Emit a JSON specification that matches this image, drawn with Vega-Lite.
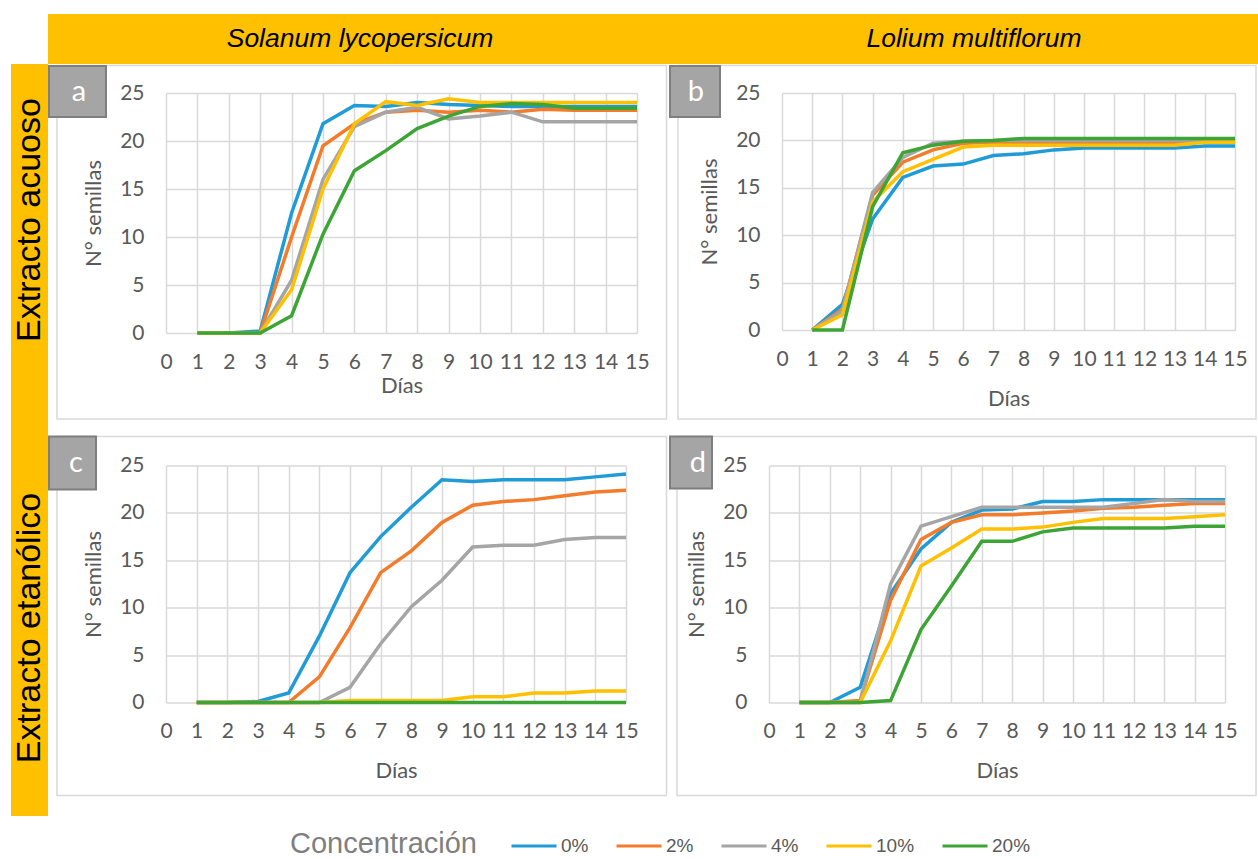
{
"$schema": "https://vega.github.io/schema/vega-lite/v6.json",
"padding": {"left": 11, "top": 14, "right": 0, "bottom": 0},
"background": "white",
"config": {
 "view": {"stroke": null},
 "font": "Lato",
 "axis": {"labelFont": "Lato", "labelFontSize": 21, "labelColor": "#595959", "titleFont": "Lato", "titleFontSize": 22, "titleFontWeight": "normal", "titleColor": "#595959", "gridColor": "#D9D9D9", "gridWidth": 1.5, "ticks": false, "domain": false, "labelFlush": false, "labelOverlap": false},
 "axisX": {"labelPadding": 18, "titlePadding": 19},
 "axisY": {"labelPadding": 22, "titlePadding": 14},
 "legend": {"orient": "none", "legendX": 279, "legendY": 808, "direction": "horizontal", "titleOrient": "left", "titleAnchor": "middle", "titleBaseline": "line-top", "titleLineHeight": 11, "titleLimit": 400, "titleFont": "Liberation Sans", "titleFontSize": 29, "titleFontWeight": "normal", "titleColor": "#7F7F7F", "titlePadding": 33, "labelFont": "Liberation Sans", "labelFontSize": 19, "labelColor": "#595959", "symbolType": "stroke", "symbolStrokeWidth": 3, "symbolSize": 2025, "columnPadding": 21, "labelOffset": 3}
},
"datasets": {"g": [
{"p":"a","c":"0%","d":1,"v":0},{"p":"a","c":"0%","d":2,"v":0},{"p":"a","c":"0%","d":3,"v":0.2},{"p":"a","c":"0%","d":4,"v":12.5},{"p":"a","c":"0%","d":5,"v":21.8},{"p":"a","c":"0%","d":6,"v":23.7},{"p":"a","c":"0%","d":7,"v":23.6},{"p":"a","c":"0%","d":8,"v":24.0},{"p":"a","c":"0%","d":9,"v":23.8},{"p":"a","c":"0%","d":10,"v":23.7},{"p":"a","c":"0%","d":11,"v":23.6},{"p":"a","c":"0%","d":12,"v":23.6},{"p":"a","c":"0%","d":13,"v":23.6},{"p":"a","c":"0%","d":14,"v":23.6},{"p":"a","c":"0%","d":15,"v":23.6},
{"p":"a","c":"2%","d":1,"v":0},{"p":"a","c":"2%","d":2,"v":0},{"p":"a","c":"2%","d":3,"v":0},{"p":"a","c":"2%","d":4,"v":10},{"p":"a","c":"2%","d":5,"v":19.5},{"p":"a","c":"2%","d":6,"v":21.8},{"p":"a","c":"2%","d":7,"v":23.0},{"p":"a","c":"2%","d":8,"v":23.2},{"p":"a","c":"2%","d":9,"v":23.0},{"p":"a","c":"2%","d":10,"v":23.2},{"p":"a","c":"2%","d":11,"v":23.0},{"p":"a","c":"2%","d":12,"v":23.3},{"p":"a","c":"2%","d":13,"v":23.2},{"p":"a","c":"2%","d":14,"v":23.2},{"p":"a","c":"2%","d":15,"v":23.2},
{"p":"a","c":"4%","d":1,"v":0},{"p":"a","c":"4%","d":2,"v":0},{"p":"a","c":"4%","d":3,"v":0},{"p":"a","c":"4%","d":4,"v":5.5},{"p":"a","c":"4%","d":5,"v":16},{"p":"a","c":"4%","d":6,"v":21.5},{"p":"a","c":"4%","d":7,"v":23.0},{"p":"a","c":"4%","d":8,"v":23.5},{"p":"a","c":"4%","d":9,"v":22.3},{"p":"a","c":"4%","d":10,"v":22.6},{"p":"a","c":"4%","d":11,"v":23.0},{"p":"a","c":"4%","d":12,"v":22.0},{"p":"a","c":"4%","d":13,"v":22.0},{"p":"a","c":"4%","d":14,"v":22.0},{"p":"a","c":"4%","d":15,"v":22.0},
{"p":"a","c":"10%","d":1,"v":0},{"p":"a","c":"10%","d":2,"v":0},{"p":"a","c":"10%","d":3,"v":0},{"p":"a","c":"10%","d":4,"v":4.5},{"p":"a","c":"10%","d":5,"v":15},{"p":"a","c":"10%","d":6,"v":21.8},{"p":"a","c":"10%","d":7,"v":24.1},{"p":"a","c":"10%","d":8,"v":23.7},{"p":"a","c":"10%","d":9,"v":24.4},{"p":"a","c":"10%","d":10,"v":24.0},{"p":"a","c":"10%","d":11,"v":24.0},{"p":"a","c":"10%","d":12,"v":24.0},{"p":"a","c":"10%","d":13,"v":24.0},{"p":"a","c":"10%","d":14,"v":24.0},{"p":"a","c":"10%","d":15,"v":24.0},
{"p":"a","c":"20%","d":1,"v":0},{"p":"a","c":"20%","d":2,"v":0},{"p":"a","c":"20%","d":3,"v":0},{"p":"a","c":"20%","d":4,"v":1.8},{"p":"a","c":"20%","d":5,"v":10.3},{"p":"a","c":"20%","d":6,"v":16.9},{"p":"a","c":"20%","d":7,"v":19.0},{"p":"a","c":"20%","d":8,"v":21.3},{"p":"a","c":"20%","d":9,"v":22.6},{"p":"a","c":"20%","d":10,"v":23.6},{"p":"a","c":"20%","d":11,"v":23.9},{"p":"a","c":"20%","d":12,"v":23.8},{"p":"a","c":"20%","d":13,"v":23.4},{"p":"a","c":"20%","d":14,"v":23.4},{"p":"a","c":"20%","d":15,"v":23.4},
{"p":"b","c":"0%","d":1,"v":0},{"p":"b","c":"0%","d":2,"v":2.7},{"p":"b","c":"0%","d":3,"v":11.7},{"p":"b","c":"0%","d":4,"v":16.1},{"p":"b","c":"0%","d":5,"v":17.3},{"p":"b","c":"0%","d":6,"v":17.5},{"p":"b","c":"0%","d":7,"v":18.4},{"p":"b","c":"0%","d":8,"v":18.6},{"p":"b","c":"0%","d":9,"v":19.0},{"p":"b","c":"0%","d":10,"v":19.2},{"p":"b","c":"0%","d":11,"v":19.2},{"p":"b","c":"0%","d":12,"v":19.2},{"p":"b","c":"0%","d":13,"v":19.2},{"p":"b","c":"0%","d":14,"v":19.4},{"p":"b","c":"0%","d":15,"v":19.4},
{"p":"b","c":"2%","d":1,"v":0},{"p":"b","c":"2%","d":2,"v":2.2},{"p":"b","c":"2%","d":3,"v":14.2},{"p":"b","c":"2%","d":4,"v":17.7},{"p":"b","c":"2%","d":5,"v":19.0},{"p":"b","c":"2%","d":6,"v":19.7},{"p":"b","c":"2%","d":7,"v":19.8},{"p":"b","c":"2%","d":8,"v":19.8},{"p":"b","c":"2%","d":9,"v":19.8},{"p":"b","c":"2%","d":10,"v":19.8},{"p":"b","c":"2%","d":11,"v":19.8},{"p":"b","c":"2%","d":12,"v":19.8},{"p":"b","c":"2%","d":13,"v":19.8},{"p":"b","c":"2%","d":14,"v":19.8},{"p":"b","c":"2%","d":15,"v":19.8},
{"p":"b","c":"4%","d":1,"v":0},{"p":"b","c":"4%","d":2,"v":2.0},{"p":"b","c":"4%","d":3,"v":14.5},{"p":"b","c":"4%","d":4,"v":18.2},{"p":"b","c":"4%","d":5,"v":19.7},{"p":"b","c":"4%","d":6,"v":19.9},{"p":"b","c":"4%","d":7,"v":20.0},{"p":"b","c":"4%","d":8,"v":20.0},{"p":"b","c":"4%","d":9,"v":20.0},{"p":"b","c":"4%","d":10,"v":20.0},{"p":"b","c":"4%","d":11,"v":20.0},{"p":"b","c":"4%","d":12,"v":20.0},{"p":"b","c":"4%","d":13,"v":20.0},{"p":"b","c":"4%","d":14,"v":20.0},{"p":"b","c":"4%","d":15,"v":20.0},
{"p":"b","c":"10%","d":1,"v":0},{"p":"b","c":"10%","d":2,"v":1.6},{"p":"b","c":"10%","d":3,"v":13.5},{"p":"b","c":"10%","d":4,"v":16.7},{"p":"b","c":"10%","d":5,"v":18.0},{"p":"b","c":"10%","d":6,"v":19.3},{"p":"b","c":"10%","d":7,"v":19.5},{"p":"b","c":"10%","d":8,"v":19.5},{"p":"b","c":"10%","d":9,"v":19.5},{"p":"b","c":"10%","d":10,"v":19.5},{"p":"b","c":"10%","d":11,"v":19.5},{"p":"b","c":"10%","d":12,"v":19.5},{"p":"b","c":"10%","d":13,"v":19.5},{"p":"b","c":"10%","d":14,"v":19.8},{"p":"b","c":"10%","d":15,"v":19.8},
{"p":"b","c":"20%","d":1,"v":0},{"p":"b","c":"20%","d":2,"v":0},{"p":"b","c":"20%","d":3,"v":13.0},{"p":"b","c":"20%","d":4,"v":18.7},{"p":"b","c":"20%","d":5,"v":19.5},{"p":"b","c":"20%","d":6,"v":19.9},{"p":"b","c":"20%","d":7,"v":20.0},{"p":"b","c":"20%","d":8,"v":20.2},{"p":"b","c":"20%","d":9,"v":20.2},{"p":"b","c":"20%","d":10,"v":20.2},{"p":"b","c":"20%","d":11,"v":20.2},{"p":"b","c":"20%","d":12,"v":20.2},{"p":"b","c":"20%","d":13,"v":20.2},{"p":"b","c":"20%","d":14,"v":20.2},{"p":"b","c":"20%","d":15,"v":20.2},
{"p":"c","c":"0%","d":1,"v":0},{"p":"c","c":"0%","d":2,"v":0},{"p":"c","c":"0%","d":3,"v":0.1},{"p":"c","c":"0%","d":4,"v":1.0},{"p":"c","c":"0%","d":5,"v":7.0},{"p":"c","c":"0%","d":6,"v":13.7},{"p":"c","c":"0%","d":7,"v":17.5},{"p":"c","c":"0%","d":8,"v":20.6},{"p":"c","c":"0%","d":9,"v":23.5},{"p":"c","c":"0%","d":10,"v":23.3},{"p":"c","c":"0%","d":11,"v":23.5},{"p":"c","c":"0%","d":12,"v":23.5},{"p":"c","c":"0%","d":13,"v":23.5},{"p":"c","c":"0%","d":14,"v":23.8},{"p":"c","c":"0%","d":15,"v":24.1},
{"p":"c","c":"2%","d":1,"v":0},{"p":"c","c":"2%","d":2,"v":0},{"p":"c","c":"2%","d":3,"v":0},{"p":"c","c":"2%","d":4,"v":0},{"p":"c","c":"2%","d":5,"v":2.7},{"p":"c","c":"2%","d":6,"v":7.9},{"p":"c","c":"2%","d":7,"v":13.7},{"p":"c","c":"2%","d":8,"v":16.0},{"p":"c","c":"2%","d":9,"v":19.0},{"p":"c","c":"2%","d":10,"v":20.8},{"p":"c","c":"2%","d":11,"v":21.2},{"p":"c","c":"2%","d":12,"v":21.4},{"p":"c","c":"2%","d":13,"v":21.8},{"p":"c","c":"2%","d":14,"v":22.2},{"p":"c","c":"2%","d":15,"v":22.4},
{"p":"c","c":"4%","d":1,"v":0},{"p":"c","c":"4%","d":2,"v":0},{"p":"c","c":"4%","d":3,"v":0},{"p":"c","c":"4%","d":4,"v":0},{"p":"c","c":"4%","d":5,"v":0},{"p":"c","c":"4%","d":6,"v":1.6},{"p":"c","c":"4%","d":7,"v":6.2},{"p":"c","c":"4%","d":8,"v":10.1},{"p":"c","c":"4%","d":9,"v":12.9},{"p":"c","c":"4%","d":10,"v":16.4},{"p":"c","c":"4%","d":11,"v":16.6},{"p":"c","c":"4%","d":12,"v":16.6},{"p":"c","c":"4%","d":13,"v":17.2},{"p":"c","c":"4%","d":14,"v":17.4},{"p":"c","c":"4%","d":15,"v":17.4},
{"p":"c","c":"10%","d":1,"v":0},{"p":"c","c":"10%","d":2,"v":0},{"p":"c","c":"10%","d":3,"v":0},{"p":"c","c":"10%","d":4,"v":0},{"p":"c","c":"10%","d":5,"v":0},{"p":"c","c":"10%","d":6,"v":0.2},{"p":"c","c":"10%","d":7,"v":0.2},{"p":"c","c":"10%","d":8,"v":0.2},{"p":"c","c":"10%","d":9,"v":0.2},{"p":"c","c":"10%","d":10,"v":0.6},{"p":"c","c":"10%","d":11,"v":0.6},{"p":"c","c":"10%","d":12,"v":1.0},{"p":"c","c":"10%","d":13,"v":1.0},{"p":"c","c":"10%","d":14,"v":1.2},{"p":"c","c":"10%","d":15,"v":1.2},
{"p":"c","c":"20%","d":1,"v":0},{"p":"c","c":"20%","d":2,"v":0},{"p":"c","c":"20%","d":3,"v":0},{"p":"c","c":"20%","d":4,"v":0},{"p":"c","c":"20%","d":5,"v":0},{"p":"c","c":"20%","d":6,"v":0},{"p":"c","c":"20%","d":7,"v":0},{"p":"c","c":"20%","d":8,"v":0},{"p":"c","c":"20%","d":9,"v":0},{"p":"c","c":"20%","d":10,"v":0},{"p":"c","c":"20%","d":11,"v":0},{"p":"c","c":"20%","d":12,"v":0},{"p":"c","c":"20%","d":13,"v":0},{"p":"c","c":"20%","d":14,"v":0},{"p":"c","c":"20%","d":15,"v":0},
{"p":"d","c":"0%","d":1,"v":0},{"p":"d","c":"0%","d":2,"v":0},{"p":"d","c":"0%","d":3,"v":1.6},{"p":"d","c":"0%","d":4,"v":11.5},{"p":"d","c":"0%","d":5,"v":16.2},{"p":"d","c":"0%","d":6,"v":19.0},{"p":"d","c":"0%","d":7,"v":20.3},{"p":"d","c":"0%","d":8,"v":20.4},{"p":"d","c":"0%","d":9,"v":21.2},{"p":"d","c":"0%","d":10,"v":21.2},{"p":"d","c":"0%","d":11,"v":21.4},{"p":"d","c":"0%","d":12,"v":21.4},{"p":"d","c":"0%","d":13,"v":21.4},{"p":"d","c":"0%","d":14,"v":21.4},{"p":"d","c":"0%","d":15,"v":21.4},
{"p":"d","c":"2%","d":1,"v":0},{"p":"d","c":"2%","d":2,"v":0},{"p":"d","c":"2%","d":3,"v":0.2},{"p":"d","c":"2%","d":4,"v":10.8},{"p":"d","c":"2%","d":5,"v":17.2},{"p":"d","c":"2%","d":6,"v":19.0},{"p":"d","c":"2%","d":7,"v":19.8},{"p":"d","c":"2%","d":8,"v":19.8},{"p":"d","c":"2%","d":9,"v":20.0},{"p":"d","c":"2%","d":10,"v":20.2},{"p":"d","c":"2%","d":11,"v":20.5},{"p":"d","c":"2%","d":12,"v":20.6},{"p":"d","c":"2%","d":13,"v":20.8},{"p":"d","c":"2%","d":14,"v":21.0},{"p":"d","c":"2%","d":15,"v":21.0},
{"p":"d","c":"4%","d":1,"v":0},{"p":"d","c":"4%","d":2,"v":0},{"p":"d","c":"4%","d":3,"v":0},{"p":"d","c":"4%","d":4,"v":12.5},{"p":"d","c":"4%","d":5,"v":18.6},{"p":"d","c":"4%","d":6,"v":19.6},{"p":"d","c":"4%","d":7,"v":20.6},{"p":"d","c":"4%","d":8,"v":20.6},{"p":"d","c":"4%","d":9,"v":20.6},{"p":"d","c":"4%","d":10,"v":20.6},{"p":"d","c":"4%","d":11,"v":20.6},{"p":"d","c":"4%","d":12,"v":21.0},{"p":"d","c":"4%","d":13,"v":21.4},{"p":"d","c":"4%","d":14,"v":21.2},{"p":"d","c":"4%","d":15,"v":21.2},
{"p":"d","c":"10%","d":1,"v":0},{"p":"d","c":"10%","d":2,"v":0},{"p":"d","c":"10%","d":3,"v":0},{"p":"d","c":"10%","d":4,"v":6.5},{"p":"d","c":"10%","d":5,"v":14.4},{"p":"d","c":"10%","d":6,"v":16.3},{"p":"d","c":"10%","d":7,"v":18.3},{"p":"d","c":"10%","d":8,"v":18.3},{"p":"d","c":"10%","d":9,"v":18.5},{"p":"d","c":"10%","d":10,"v":19.0},{"p":"d","c":"10%","d":11,"v":19.4},{"p":"d","c":"10%","d":12,"v":19.4},{"p":"d","c":"10%","d":13,"v":19.4},{"p":"d","c":"10%","d":14,"v":19.6},{"p":"d","c":"10%","d":15,"v":19.8},
{"p":"d","c":"20%","d":1,"v":0},{"p":"d","c":"20%","d":2,"v":0},{"p":"d","c":"20%","d":3,"v":0},{"p":"d","c":"20%","d":4,"v":0.2},{"p":"d","c":"20%","d":5,"v":7.7},{"p":"d","c":"20%","d":6,"v":12.3},{"p":"d","c":"20%","d":7,"v":17.0},{"p":"d","c":"20%","d":8,"v":17.0},{"p":"d","c":"20%","d":9,"v":18.0},{"p":"d","c":"20%","d":10,"v":18.4},{"p":"d","c":"20%","d":11,"v":18.4},{"p":"d","c":"20%","d":12,"v":18.4},{"p":"d","c":"20%","d":13,"v":18.4},{"p":"d","c":"20%","d":14,"v":18.6},{"p":"d","c":"20%","d":15,"v":18.6}
]},
"spacing": 0,
"vconcat": [
 {"hconcat": [
   {"width": 37, "height": 50, "data": {"values": []}, "mark": {"type": "text"}, "encoding": {}},
   {"width": 624, "height": 50, "view": {"fill": "#FFC000", "stroke": null}, "data": {"values": [{"t": "Solanum lycopersicum"}]}, "mark": {"type": "text", "font": "Liberation Sans", "fontStyle": "italic", "fontSize": 26.5, "color": "#000000", "baseline": "middle"}, "encoding": {"text": {"field": "t", "type": "nominal"}}},
   {"width": 586, "height": 50, "view": {"fill": "#FFC000", "stroke": null}, "data": {"values": [{"t": "Lolium multiflorum"}]}, "mark": {"type": "text", "font": "Liberation Sans", "fontStyle": "italic", "fontSize": 26.5, "color": "#000000", "baseline": "middle", "dx": 9}, "encoding": {"text": {"field": "t", "type": "nominal"}}}
  ], "spacing": 0},
 {"hconcat": [
   {"vconcat": [
     {"width": 37, "height": 364, "view": {"fill": "#FFC000", "stroke": null}, "data": {"values": [{"t": "Extracto acuoso"}]}, "mark": {"type": "text", "font": "Liberation Sans", "fontSize": 34, "angle": 270, "color": "#000000", "baseline": "middle", "dx": 26}, "encoding": {"text": {"field": "t", "type": "nominal"}}},
     {"width": 37, "height": 388, "view": {"fill": "#FFC000", "stroke": null}, "data": {"values": [{"t": "Extracto etanólico"}]}, "mark": {"type": "text", "font": "Liberation Sans", "fontSize": 34, "angle": 270, "color": "#000000", "baseline": "middle", "dx": -6}, "encoding": {"text": {"field": "t", "type": "nominal"}}}
    ], "spacing": 0},
   {"vconcat": [
     {"width": 1, "height": 1, "data": {"values": []}, "mark": {"type": "text"}, "encoding": {}},
     {"vconcat": [
     {"hconcat": [
       {"width": 471, "height": 240, "layer": [
         {"data": {"name": "g"}, "transform": [{"filter": "datum.p === 'a'"}], "mark": {"type": "line", "strokeWidth": 3.5}, "encoding": {
           "x": {"field": "d", "type": "quantitative", "scale": {"domain": [0, 15]}, "axis": {"values": [0,1,2,3,4,5,6,7,8,9,10,11,12,13,14,15], "title": "Días", "titlePadding": 3}},
           "y": {"field": "v", "type": "quantitative", "scale": {"domain": [0, 25]}, "axis": {"values": [0,5,10,15,20,25], "title": "N° semillas"}},
           "color": {"field": "c", "type": "nominal", "scale": {"domain": ["0%","2%","4%","10%","20%"], "range": ["#1F9BD7","#F47B2A","#A5A5A5","#FFC000","#3DA535"]}, "legend": {"title": "Concentración"}}}},
         {"data": {"values": [{"k": "a"}]}, "mark": {"type": "rect", "filled": false, "stroke": "#D9D9D9", "strokeWidth": 1.5, "clip": false}, "encoding": {
           "x": {"datum": -3.471, "type": "quantitative", "scale": {"domain": [0, 15]}, "axis": {"values": [0,1,2,3,4,5,6,7,8,9,10,11,12,13,14,15], "title": "Días", "titlePadding": 3}}, "x2": {"datum": 15.939},
           "y": {"datum": 27.865, "type": "quantitative", "scale": {"domain": [0, 25]}, "axis": {"values": [0,5,10,15,20,25], "title": "N° semillas"}}, "y2": {"datum": -8.958}}},
         {"data": {"values": [{"k": "a"}]}, "mark": {"type": "rect", "fill": "#A5A5A5", "stroke": "#7F7F7F", "strokeWidth": 2, "clip": false}, "encoding": {
           "x": {"datum": -3.726, "type": "quantitative", "scale": {"domain": [0, 15]}, "axis": {"values": [0,1,2,3,4,5,6,7,8,9,10,11,12,13,14,15], "title": "Días", "titlePadding": 3}}, "x2": {"datum": -1.911},
           "y": {"datum": 27.8125, "type": "quantitative", "scale": {"domain": [0, 25]}, "axis": {"values": [0,5,10,15,20,25], "title": "N° semillas"}}, "y2": {"datum": 22.5}}},
         {"data": {"values": [{"k": "a"}]}, "mark": {"type": "text", "font": "Lato", "fontSize": 29, "color": "#FFFFFF", "baseline": "middle", "clip": false}, "encoding": {
           "x": {"datum": -2.771, "type": "quantitative", "scale": {"domain": [0, 15]}, "axis": {"values": [0,1,2,3,4,5,6,7,8,9,10,11,12,13,14,15], "title": "Días", "titlePadding": 3}},
           "y": {"datum": 25.156, "type": "quantitative", "scale": {"domain": [0, 25]}, "axis": {"values": [0,5,10,15,20,25], "title": "N° semillas"}},
           "text": {"field": "k", "type": "nominal"}}}
       ]},
       {"width": 453, "height": 237, "layer": [
         {"data": {"name": "g"}, "transform": [{"filter": "datum.p === 'b'"}], "mark": {"type": "line", "strokeWidth": 3.5}, "encoding": {
           "x": {"field": "d", "type": "quantitative", "scale": {"domain": [0, 15]}, "axis": {"values": [0,1,2,3,4,5,6,7,8,9,10,11,12,13,14,15], "title": "Días"}},
           "y": {"field": "v", "type": "quantitative", "scale": {"domain": [0, 25]}, "axis": {"values": [0,5,10,15,20,25], "title": "N° semillas"}},
           "color": {"field": "c", "type": "nominal", "scale": {"domain": ["0%","2%","4%","10%","20%"], "range": ["#1F9BD7","#F47B2A","#A5A5A5","#FFC000","#3DA535"]}, "legend": {"title": "Concentración"}}}},
         {"data": {"values": [{"k": "b"}]}, "mark": {"type": "rect", "filled": false, "stroke": "#D9D9D9", "strokeWidth": 1.5, "clip": false}, "encoding": {
           "x": {"datum": -3.444, "type": "quantitative", "scale": {"domain": [0, 15]}, "axis": {"values": [0,1,2,3,4,5,6,7,8,9,10,11,12,13,14,15], "title": "Días"}}, "x2": {"datum": 15.695},
           "y": {"datum": 27.901, "type": "quantitative", "scale": {"domain": [0, 25]}, "axis": {"values": [0,5,10,15,20,25], "title": "N° semillas"}}, "y2": {"datum": -9.388}}},
         {"data": {"values": [{"k": "b"}]}, "mark": {"type": "rect", "fill": "#A5A5A5", "stroke": "#7F7F7F", "strokeWidth": 2, "clip": false}, "encoding": {
           "x": {"datum": -3.709, "type": "quantitative", "scale": {"domain": [0, 15]}, "axis": {"values": [0,1,2,3,4,5,6,7,8,9,10,11,12,13,14,15], "title": "Días"}}, "x2": {"datum": -2.053},
           "y": {"datum": 27.848, "type": "quantitative", "scale": {"domain": [0, 25]}, "axis": {"values": [0,5,10,15,20,25], "title": "N° semillas"}}, "y2": {"datum": 22.468}}},
         {"data": {"values": [{"k": "b"}]}, "mark": {"type": "text", "font": "Lato", "fontSize": 29, "color": "#FFFFFF", "baseline": "middle", "clip": false}, "encoding": {
           "x": {"datum": -2.848, "type": "quantitative", "scale": {"domain": [0, 15]}, "axis": {"values": [0,1,2,3,4,5,6,7,8,9,10,11,12,13,14,15], "title": "Días"}},
           "y": {"datum": 25.158, "type": "quantitative", "scale": {"domain": [0, 25]}, "axis": {"values": [0,5,10,15,20,25], "title": "N° semillas"}},
           "text": {"field": "k", "type": "nominal"}}}
       ]}
      ], "spacing": 0},
     {"hconcat": [
       {"width": 460, "height": 237, "layer": [
         {"data": {"name": "g"}, "transform": [{"filter": "datum.p === 'c'"}], "mark": {"type": "line", "strokeWidth": 3.5}, "encoding": {
           "x": {"field": "d", "type": "quantitative", "scale": {"domain": [0, 15]}, "axis": {"values": [0,1,2,3,4,5,6,7,8,9,10,11,12,13,14,15], "title": "Días"}},
           "y": {"field": "v", "type": "quantitative", "scale": {"domain": [0, 25]}, "axis": {"values": [0,5,10,15,20,25], "title": "N° semillas"}},
           "color": {"field": "c", "type": "nominal", "scale": {"domain": ["0%","2%","4%","10%","20%"], "range": ["#1F9BD7","#F47B2A","#A5A5A5","#FFC000","#3DA535"]}, "legend": {"title": "Concentración"}}}},
         {"data": {"values": [{"k": "c"}]}, "mark": {"type": "rect", "filled": false, "stroke": "#D9D9D9", "strokeWidth": 1.5, "clip": false}, "encoding": {
           "x": {"datum": -3.554, "type": "quantitative", "scale": {"domain": [0, 15]}, "axis": {"values": [0,1,2,3,4,5,6,7,8,9,10,11,12,13,14,15], "title": "Días"}}, "x2": {"datum": 16.321},
           "y": {"datum": 28.059, "type": "quantitative", "scale": {"domain": [0, 25]}, "axis": {"values": [0,5,10,15,20,25], "title": "N° semillas"}}, "y2": {"datum": -9.81}}},
         {"data": {"values": [{"k": "c"}]}, "mark": {"type": "rect", "fill": "#A5A5A5", "stroke": "#7F7F7F", "strokeWidth": 2, "clip": false}, "encoding": {
           "x": {"datum": -3.815, "type": "quantitative", "scale": {"domain": [0, 15]}, "axis": {"values": [0,1,2,3,4,5,6,7,8,9,10,11,12,13,14,15], "title": "Días"}}, "x2": {"datum": -2.283},
           "y": {"datum": 28.059, "type": "quantitative", "scale": {"domain": [0, 25]}, "axis": {"values": [0,5,10,15,20,25], "title": "N° semillas"}}, "y2": {"datum": 22.468}}},
         {"data": {"values": [{"k": "c"}]}, "mark": {"type": "text", "font": "Lato", "fontSize": 29, "color": "#FFFFFF", "baseline": "middle", "clip": false}, "encoding": {
           "x": {"datum": -2.935, "type": "quantitative", "scale": {"domain": [0, 15]}, "axis": {"values": [0,1,2,3,4,5,6,7,8,9,10,11,12,13,14,15], "title": "Días"}},
           "y": {"datum": 25.211, "type": "quantitative", "scale": {"domain": [0, 25]}, "axis": {"values": [0,5,10,15,20,25], "title": "N° semillas"}},
           "text": {"field": "k", "type": "nominal"}}}
       ]},
       {"width": 456, "height": 237, "layer": [
         {"data": {"name": "g"}, "transform": [{"filter": "datum.p === 'd'"}], "mark": {"type": "line", "strokeWidth": 3.5}, "encoding": {
           "x": {"field": "d", "type": "quantitative", "scale": {"domain": [0, 15]}, "axis": {"values": [0,1,2,3,4,5,6,7,8,9,10,11,12,13,14,15], "title": "Días"}},
           "y": {"field": "v", "type": "quantitative", "scale": {"domain": [0, 25]}, "axis": {"values": [0,5,10,15,20,25], "title": "N° semillas"}},
           "color": {"field": "c", "type": "nominal", "scale": {"domain": ["0%","2%","4%","10%","20%"], "range": ["#1F9BD7","#F47B2A","#A5A5A5","#FFC000","#3DA535"]}, "legend": {"title": "Concentración"}}}},
         {"data": {"values": [{"k": "d"}]}, "mark": {"type": "rect", "filled": false, "stroke": "#D9D9D9", "strokeWidth": 1.5, "clip": false}, "encoding": {
           "x": {"datum": -3.026, "type": "quantitative", "scale": {"domain": [0, 15]}, "axis": {"values": [0,1,2,3,4,5,6,7,8,9,10,11,12,13,14,15], "title": "Días"}}, "x2": {"datum": 16.02},
           "y": {"datum": 28.059, "type": "quantitative", "scale": {"domain": [0, 25]}, "axis": {"values": [0,5,10,15,20,25], "title": "N° semillas"}}, "y2": {"datum": -9.81}}},
         {"data": {"values": [{"k": "d"}]}, "mark": {"type": "rect", "fill": "#A5A5A5", "stroke": "#7F7F7F", "strokeWidth": 2, "clip": false}, "encoding": {
           "x": {"datum": -3.257, "type": "quantitative", "scale": {"domain": [0, 15]}, "axis": {"values": [0,1,2,3,4,5,6,7,8,9,10,11,12,13,14,15], "title": "Días"}}, "x2": {"datum": -1.875},
           "y": {"datum": 28.059, "type": "quantitative", "scale": {"domain": [0, 25]}, "axis": {"values": [0,5,10,15,20,25], "title": "N° semillas"}}, "y2": {"datum": 22.574}}},
         {"data": {"values": [{"k": "d"}]}, "mark": {"type": "text", "font": "Lato", "fontSize": 29, "color": "#FFFFFF", "baseline": "middle", "clip": false}, "encoding": {
           "x": {"datum": -2.336, "type": "quantitative", "scale": {"domain": [0, 15]}, "axis": {"values": [0,1,2,3,4,5,6,7,8,9,10,11,12,13,14,15], "title": "Días"}},
           "y": {"datum": 25.211, "type": "quantitative", "scale": {"domain": [0, 25]}, "axis": {"values": [0,5,10,15,20,25], "title": "N° semillas"}},
           "text": {"field": "k", "type": "nominal"}}}
       ]}
      ], "spacing": 0}
     ], "spacing": 15.5}
    ], "spacing": -1}
  ], "spacing": 0}
]
}
